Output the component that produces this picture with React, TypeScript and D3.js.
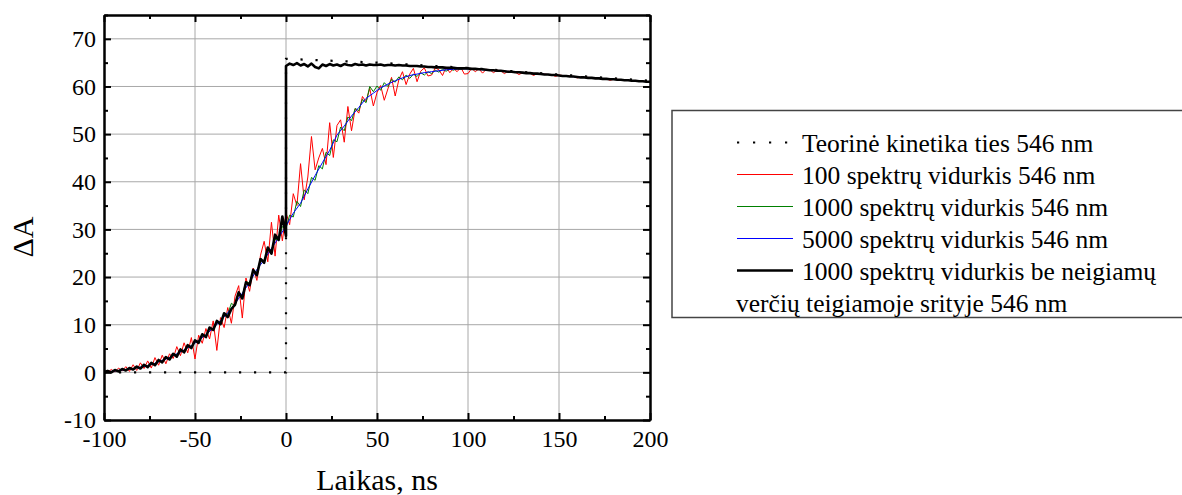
import React, { useEffect, useRef } from 'react';
import * as d3 from 'd3';

// time grids (ns)
const times2 = d3.range(-100, 201, 2);
const times4 = d3.range(-100, 201, 4);
const blackBeforeTimes = d3.range(-100, 1, 2);
const blackAfterTimes = d3.range(0, 201, 2);

// 100 spectra average, every 2 ns
const red100 = [
  0.2, 0.0, 0.6, 0.1, 0.9, 0.3, 1.2, 0.2, 1.6, 0.4,
  2.0, 0.8, 2.4, 0.9, 3.1, 1.5, 3.6, 1.8, 3.9, 2.9,
  5.4, 3.5, 6.2, 4.1, 7.3, 2.8, 7.8, 6.1, 9.2, 7.0,
  10.8, 4.6, 11.5, 9.4, 13.6, 10.3, 16.0, 18.2, 11.4, 19.8,
  17.0, 21.9, 19.3, 24.6, 27.5, 23.2, 31.5, 24.4, 33.0, 27.6,
  33.5, 31.0, 37.5, 35.0, 43.8, 36.2, 41.0, 49.5, 42.5, 45.0,
  47.0, 43.6, 52.4, 45.1, 51.8, 53.0, 48.3, 55.8, 50.7, 55.3,
  54.4, 57.9, 56.8, 59.6, 55.9, 58.7, 60.2, 57.1, 59.5, 61.9,
  58.0, 61.4, 63.1, 60.4, 62.6, 63.8, 61.0, 63.2, 63.9, 62.2,
  62.4, 63.9, 63.5, 62.3, 64.1, 62.9, 63.8, 63.1, 64.0, 62.6,
  62.7, 63.8, 63.1, 63.7, 62.8, 63.6, 63.5, 62.9, 63.4, 63.3,
  62.7, 63.2, 63.1, 63.0, 62.5, 62.9, 62.9, 62.8, 62.3, 62.7,
  62.6, 62.6, 62.5, 62.5, 62.1, 62.4, 62.3, 62.2, 62.2, 62.1,
  61.8, 62.0, 61.9, 61.9, 61.8, 61.8, 61.7, 61.6, 61.6, 61.3,
  61.5, 61.5, 61.4, 61.3, 61.3, 61.2, 61.2, 61.1, 61.1, 61.0,
  61.0,
];

// 1000 spectra average, every 2 ns
const green1000 = [
  0.0, 0.2, 0.1, 0.4, 0.3, 0.6, 0.5, 0.8, 0.6, 1.0,
  0.9, 1.3, 1.2, 1.8, 1.6, 2.4, 2.2, 3.1, 2.9, 3.9,
  3.7, 4.7, 4.5, 5.6, 5.5, 6.6, 6.5, 7.9, 7.7, 9.3,
  9.1, 10.8, 10.6, 12.4, 12.2, 14.5, 13.9, 16.8, 16.2, 19.0,
  18.8, 21.3, 21.0, 23.6, 23.5, 25.8, 25.7, 27.9, 27.8, 30.6,
  30.2, 33.0, 32.6, 35.9, 34.8, 38.3, 37.5, 40.9, 40.3, 43.4,
  42.7, 46.2, 45.5, 48.8, 48.4, 51.5, 50.7, 53.6, 52.8, 55.4,
  54.9, 57.3, 56.6, 60.0, 58.9, 60.1, 59.2, 60.8, 60.0, 61.5,
  60.9, 62.0, 61.4, 62.4, 61.7, 62.6, 62.1, 62.9, 62.4, 63.1,
  62.7, 63.4, 63.0, 63.6, 63.2, 63.7, 63.4, 63.8, 63.6, 63.8,
  63.7, 63.7, 63.6, 63.6, 63.5, 63.5, 63.4, 63.4, 63.3, 63.3,
  63.2, 63.1, 63.1, 63.0, 63.0, 62.9, 62.8, 62.8, 62.7, 62.7,
  62.6, 62.5, 62.5, 62.4, 62.4, 62.3, 62.2, 62.2, 62.1, 62.1,
  62.0, 61.9, 61.9, 61.8, 61.8, 61.7, 61.7, 61.6, 61.6, 61.5,
  61.5, 61.4, 61.4, 61.3, 61.3, 61.2, 61.2, 61.1, 61.1, 61.0,
  61.0,
];

// 5000 spectra average, every 4 ns
const blue5000 = [
  0.0, 0.2, 0.4, 0.6, 0.8, 1.1, 1.4, 1.9, 2.5, 3.1,
  3.9, 4.7, 5.6, 6.7, 7.9, 9.3, 10.8, 12.5, 14.4, 16.6,
  18.9, 21.6, 23.6, 26.0, 28.3, 30.7, 33.4, 35.5, 38.5, 41.3,
  44.0, 46.6, 49.8, 51.7, 53.8, 55.6, 57.5, 58.6, 59.7, 60.5,
  61.2, 61.8, 62.3, 62.6, 62.9, 63.1, 63.3, 63.5, 63.6, 63.7,
  63.7, 63.6, 63.5, 63.4, 63.3, 63.2, 63.1, 63.0, 62.8, 62.7,
  62.6, 62.5, 62.4, 62.2, 62.1, 62.0, 61.9, 61.8, 61.7, 61.6,
  61.5, 61.4, 61.3, 61.2, 61.1, 61.0,
];

// 1000 spectra without negative values in the positive region
const blackBefore = [
  0.1, 0.3, 0.0, 0.5, 0.2, 0.7, 0.4, 0.9, 0.6, 1.2,
  0.8, 1.6, 1.1, 2.0, 1.5, 2.6, 2.1, 3.2, 2.7, 3.9,
  3.3, 4.8, 4.2, 5.7, 5.1, 6.7, 6.2, 8.0, 7.4, 9.4,
  8.9, 10.8, 10.1, 12.4, 11.6, 13.3, 14.2, 16.8, 15.5, 18.9,
  18.3, 21.5, 20.4, 23.8, 23.0, 26.2, 24.9, 28.9, 27.8, 32.7,
  28.6,
];
const blackAfter = [
  64.3, 64.8, 64.5, 64.9, 64.4, 64.7, 64.2, 64.8, 64.1, 63.8,
  64.6, 64.3, 64.7, 64.4, 64.6, 64.3, 64.7, 64.5, 64.4, 64.7,
  64.5, 64.6, 64.4, 64.6, 64.5, 64.5, 64.6, 64.4, 64.5, 64.5,
  64.4, 64.5, 64.4, 64.4, 64.3, 64.3, 64.3, 64.2, 64.2, 64.1,
  64.1, 64.0, 64.0, 64.0, 63.9, 63.9, 63.9, 63.8, 63.8, 63.8,
  63.8, 63.7, 63.7, 63.6, 63.6, 63.5, 63.4, 63.4, 63.3, 63.3,
  63.2, 63.1, 63.1, 63.0, 63.0, 62.9, 62.8, 62.8, 62.7, 62.7,
  62.6, 62.5, 62.5, 62.4, 62.4, 62.3, 62.2, 62.2, 62.1, 62.1,
  62.0, 61.9, 61.9, 61.8, 61.8, 61.7, 61.7, 61.6, 61.6, 61.5,
  61.5, 61.4, 61.4, 61.3, 61.3, 61.2, 61.2, 61.1, 61.1, 61.0,
  61.0,
];

// theoretical kinetics
const theoryTimes = [-100, 0, 0, 50, 100, 150, 200];
const theoryValues = [0, 0, 65.8, 65.0, 63.9, 62.5, 61.2];

const xTicks = [-100, -50, 0, 50, 100, 150, 200];
const xMinor = [-75, -25, 25, 75, 125, 175];
const yTicks = [-10, 0, 10, 20, 30, 40, 50, 60, 70];
const yMinor = [-5, 5, 15, 25, 35, 45, 55, 65, 75];

const legendLabels = [
  'Teorinė kinetika ties 546 nm',
  '100 spektrų vidurkis 546 nm',
  '1000 spektrų vidurkis 546 nm',
  '5000 spektrų vidurkis 546 nm',
  '1000 spektrų vidurkis be neigiamų',
];
const legendTail = 'verčių teigiamoje srityje 546 nm';

const FONT = "'Liberation Serif', 'Times New Roman', serif";

export default function App() {
  const ref = useRef<SVGSVGElement>(null);

  useEffect(() => {
    const svg = d3.select(ref.current);
    svg.selectAll('*').remove();

    const left = 104, right = 650, top = 15, bottom = 420;
    const x = d3.scaleLinear().domain([-100, 200]).range([left, right]);
    const y = d3.scaleLinear().domain([-10, 75]).range([bottom, top]);
    const plain = (d: any) => String(d); // hyphen, not the unicode minus

    // grid
    const grid = svg.append('g').attr('stroke', '#a8a8a8').attr('stroke-width', 1);
    xTicks.slice(1, -1).forEach((t) => {
      grid.append('line').attr('x1', x(t)).attr('x2', x(t)).attr('y1', top).attr('y2', bottom);
    });
    yTicks.slice(1).forEach((t) => {
      grid.append('line').attr('x1', left).attr('x2', right).attr('y1', y(t)).attr('y2', y(t));
    });

    svg.append('clipPath').attr('id', 'plot-clip')
      .append('rect')
      .attr('x', left).attr('y', top)
      .attr('width', right - left).attr('height', bottom - top);

    const plot = svg.append('g').attr('clip-path', 'url(#plot-clip)');

    const line = d3.line<[number, number]>()
      .x((d) => x(d[0]))
      .y((d) => y(d[1]));

    const zip = (ts: number[], vs: number[]) => ts.map((t, i) => [t, vs[i]] as [number, number]);

    plot.append('path')
      .attr('d', line(zip(times2, red100)))
      .attr('fill', 'none').attr('stroke', '#ff0000').attr('stroke-width', 1);
    plot.append('path')
      .attr('d', line(zip(times2, green1000)))
      .attr('fill', 'none').attr('stroke', '#008000').attr('stroke-width', 1);
    plot.append('path')
      .attr('d', line(zip(times4, blue5000)))
      .attr('fill', 'none').attr('stroke', '#0000ff').attr('stroke-width', 1);
    plot.append('path')
      .attr('d', line(zip(blackBeforeTimes, blackBefore).concat(zip(blackAfterTimes, blackAfter))))
      .attr('fill', 'none').attr('stroke', '#000').attr('stroke-width', 2.6)
      .attr('stroke-linejoin', 'round');
    plot.append('path')
      .attr('d', line(zip(theoryTimes, theoryValues)))
      .attr('fill', 'none').attr('stroke', '#000').attr('stroke-width', 2.2)
      .attr('stroke-dasharray', '2.2,12.8');

    // axes, ticks pointing inward on all four sides
    const styleAxis = (g: any) => {
      g.attr('font-family', FONT).attr('font-size', 24);
      g.select('.domain').attr('stroke', '#000').attr('stroke-width', 2);
      g.selectAll('.tick line').attr('stroke', '#000').attr('stroke-width', 2);
      g.selectAll('.tick text').attr('fill', '#000');
    };

    svg.append('g').attr('transform', `translate(0,${bottom})`)
      .call(d3.axisBottom(x).tickValues(xTicks).tickSize(-7).tickSizeOuter(0).tickPadding(10).tickFormat(plain))
      .call(styleAxis);
    svg.append('g').attr('transform', `translate(0,${bottom})`)
      .call(d3.axisBottom(x).tickValues(xMinor).tickSize(-4).tickSizeOuter(0).tickFormat(() => ''))
      .call(styleAxis);
    svg.append('g').attr('transform', `translate(0,${top})`)
      .call(d3.axisTop(x).tickValues(xTicks).tickSize(-7).tickSizeOuter(0).tickFormat(() => ''))
      .call(styleAxis);
    svg.append('g').attr('transform', `translate(0,${top})`)
      .call(d3.axisTop(x).tickValues(xMinor).tickSize(-4).tickSizeOuter(0).tickFormat(() => ''))
      .call(styleAxis);

    svg.append('g').attr('transform', `translate(${left},0)`)
      .call(d3.axisLeft(y).tickValues(yTicks).tickSize(-7).tickSizeOuter(0).tickPadding(8).tickFormat(plain))
      .call(styleAxis);
    svg.append('g').attr('transform', `translate(${left},0)`)
      .call(d3.axisLeft(y).tickValues(yMinor).tickSize(-4).tickSizeOuter(0).tickFormat(() => ''))
      .call(styleAxis);
    svg.append('g').attr('transform', `translate(${right},0)`)
      .call(d3.axisRight(y).tickValues(yTicks).tickSize(-7).tickSizeOuter(0).tickFormat(() => ''))
      .call(styleAxis);
    svg.append('g').attr('transform', `translate(${right},0)`)
      .call(d3.axisRight(y).tickValues(yMinor).tickSize(-4).tickSizeOuter(0).tickFormat(() => ''))
      .call(styleAxis);

    // axis titles
    svg.append('text')
      .attr('x', 377).attr('y', 490)
      .attr('text-anchor', 'middle')
      .attr('font-family', FONT).attr('font-size', 30)
      .text('Laikas, ns');
    svg.append('text')
      .attr('transform', 'translate(33,237) rotate(-90)')
      .attr('text-anchor', 'middle')
      .attr('font-family', FONT).attr('font-size', 30)
      .text('ΔA');

    // legend
    const lg = svg.append('g');
    lg.append('rect')
      .attr('x', 672).attr('y', 110.5)
      .attr('width', 530).attr('height', 207)
      .attr('fill', '#fff').attr('stroke', '#444').attr('stroke-width', 1.5);

    const swatch = [
      { stroke: '#000', width: 2.2, dash: '2.2,13.8' },
      { stroke: '#ff0000', width: 1, dash: null },
      { stroke: '#008000', width: 1, dash: null },
      { stroke: '#0000ff', width: 1, dash: null },
      { stroke: '#000', width: 2.6, dash: null },
    ];
    legendLabels.forEach((label, i) => {
      const base = 151.5 + i * 32;
      const s = swatch[i];
      const l = lg.append('line')
        .attr('x1', 737).attr('x2', 793)
        .attr('y1', base - 9).attr('y2', base - 9)
        .attr('stroke', s.stroke).attr('stroke-width', s.width);
      if (s.dash) l.attr('stroke-dasharray', s.dash);
      lg.append('text')
        .attr('x', 802).attr('y', base)
        .attr('font-family', FONT).attr('font-size', 25.5)
        .text(label);
    });
    lg.append('text')
      .attr('x', 736).attr('y', 151.5 + 5 * 32)
      .attr('font-family', FONT).attr('font-size', 25.5)
      .text(legendTail);
  }, []);

  return (
    <svg
      ref={ref}
      width={1182}
      height={495}
      style={{ position: 'absolute', left: 0, top: 0, background: '#fff' }}
    />
  );
}
